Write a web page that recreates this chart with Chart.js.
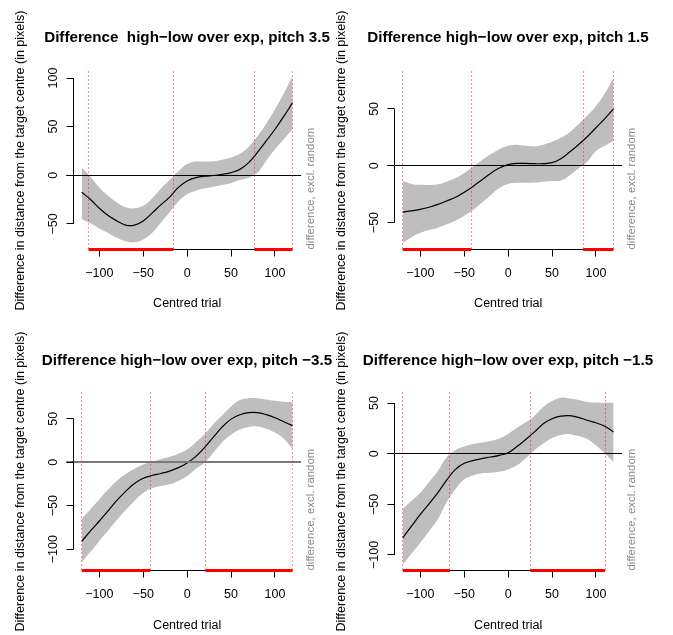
<!DOCTYPE html>
<html><head><meta charset="utf-8">
<script src="https://cdn.jsdelivr.net/npm/chart.js@4.4.1/dist/chart.umd.min.js"></script>
<style>
html,body{margin:0;padding:0;background:#fff;overflow:hidden;width:673px;height:635px}
canvas{position:absolute}
</style></head>
<body>
<canvas id="c1" style="left:0;top:0" width="374" height="321"></canvas>
<canvas id="c2" style="left:321px;top:0" width="374" height="321"></canvas>
<canvas id="c3" style="left:0;top:321px" width="374" height="314"></canvas>
<canvas id="c4" style="left:321px;top:321px" width="374" height="314"></canvas>
<script>
// ---- data ----
const trial = [-120,-110,-100,-90,-80,-70,-60,-50,-40,-30,-20,-10,0,10,20,30,40,50,60,70,80,90,100,110,120];
const xTickValues = [-100,-50,0,50,100];

const titles = [
  'Difference  high\u2212low over exp, pitch 3.5',
  'Difference high\u2212low over exp, pitch 1.5',
  'Difference high\u2212low over exp, pitch \u22123.5',
  'Difference high\u2212low over exp, pitch \u22121.5'
];

const fit1   = [-17.5,-25,-34,-41.5,-47,-51.3,-51.3,-47,-39,-30.5,-22.5,-12.5,-6,-2.5,-1,-0.3,1,2.7,6,13,23.5,35.3,47.3,60.5,74.7];
const upper1 = [8,-1.5,-12.7,-21,-28,-33,-34,-31.5,-24,-14,-5,4,11.5,14,14,14.5,16,18.2,22,29,40,53,67.8,84,102];
const lower1 = [-45,-49.5,-54.8,-59.5,-64.3,-68,-69,-66,-59.5,-49,-38,-27,-19.5,-16,-13.5,-11.8,-10,-8.2,-5,-2.5,2.5,15,26.7,37,47.3];
const sig1   = [[-112.3,-15.6],[76.7,120]];
const yTicks1 = [-50,0,50,100];
const yRange1 = [-76.4,106.7];

const fit2   = [-40.8,-39.8,-38.4,-36.5,-34,-31,-27.8,-23.3,-18.2,-12.5,-6.8,-2,0.9,2,2,1.8,1.8,2.7,6.2,12,18.5,25.5,33.4,41.5,50.1];
const upper2 = [-13.5,-16,-16.8,-17,-16.4,-14,-11,-6.5,-0.8,4.8,10,14.5,17.5,18.5,17.5,17,18.5,21,24.6,29.5,36.5,44,52.5,63.5,77.4];
const lower2 = [-67.7,-63,-59,-56.5,-54.5,-51.5,-48.3,-44,-39,-32.5,-26,-19.5,-16,-15,-15,-14.8,-14,-13.5,-13,-8.5,-2.5,3.5,12.9,17.5,21.7];
const sig2   = [[-120,-42],[85.5,120]];
const yTicks2 = [-50,0,50];
const yRange2 = [-73.7,82.9];

const fit3   = [-91,-79,-67.6,-56,-44,-33.5,-24.5,-18.5,-15.3,-13,-10.3,-6.3,-0.8,6.7,17,29,40.5,49.5,54.5,57,57,54.6,51,46.5,42];
const upper3 = [-65,-54,-42.7,-31.5,-21.3,-13.5,-7.5,-2.8,0.7,3.5,6.3,9.8,14.5,23,32.5,44,54,64,71.5,73.5,73.5,72,70.5,69.5,69];
const lower3 = [-115,-103,-90.5,-78.5,-66.5,-55,-44.5,-35.5,-30,-27.5,-25.5,-21.5,-16,-7.5,-0.5,11,23,31.5,37.5,40.5,41,38.5,34,27,15.3];
const sig3   = [[-120,-42],[21,120]];
const yTicks3 = [-100,-50,0,50];
const yRange3 = [-124.5,80.1];

const fit4   = [-83,-71.5,-60,-49.5,-38.5,-26,-15.5,-9.5,-6.8,-4.8,-3.3,-1.6,1,7,14,21.5,29.5,34.5,37,37.5,35.8,33,30.5,27,21.4];
const upper4 = [-54.5,-46.5,-38.5,-28,-17.1,-3.5,3.5,7,9.5,11,12.5,15,19.5,25.5,31,37.5,46,52,55.3,54.5,53,51,50.5,50.3,50.3];
const lower4 = [-109.5,-98.5,-87.8,-76.5,-64.8,-48,-35,-25.5,-21.5,-19.3,-18.7,-17.8,-15.5,-11.5,-4.5,3.5,10,15.5,18.5,19.3,17.5,14.5,8,0.3,-8.2];
const sig4   = [[-120,-66.4],[25.4,110.4]];
const yTicks4 = [-100,-50,0,50];
const yRange4 = [-115.3,60.4];

// ---- drawing ----
const FONT = "'Liberation Sans', Arial, Helvetica, sans-serif";
const NOTE = 'difference, excl. random';
Chart.defaults.color = '#000';
function pts(xs, ys){ return xs.map((x,i)=>({x:x, y:ys[i]})); }
function lab(v){ return String(v).replace('-', '\u2212'); }

// size the side note so its length matches the reference (about 122 px)
const mctx = document.createElement('canvas').getContext('2d');
mctx.font = '12.5px ' + FONT;
const noteSize = Math.min(12.5, 12.5 * 122 / mctx.measureText(NOTE).width);

const rDeco = {
  id: 'rDeco',
  afterDatasetsDraw(chart, args, o) {
    const {ctx, chartArea: ca, scales: {x, y}} = chart;
    const half = v => Math.floor(v) + 0.5;
    ctx.save();
    // dotted boundaries of significant regions
    ctx.strokeStyle = 'rgba(255,0,0,0.85)';
    ctx.lineWidth = 1;
    ctx.setLineDash([1,3]);
    o.sig.forEach(r => r.forEach(v => {
      const px = half(x.getPixelForValue(v));
      ctx.beginPath(); ctx.moveTo(px, ca.top); ctx.lineTo(px, ca.bottom); ctx.stroke();
    }));
    ctx.setLineDash([]);
    // zero line
    const yz = y.getPixelForValue(0);
    ctx.strokeStyle = o.zeroColor; ctx.lineWidth = o.zeroWidth;
    const y0 = o.zeroWidth % 2 ? half(yz) : Math.round(yz);
    ctx.beginPath(); ctx.moveTo(ca.left - 7, y0); ctx.lineTo(ca.right, y0); ctx.stroke();
    // x axis (R style)
    ctx.strokeStyle = '#000'; ctx.lineWidth = 1;
    const by = half(ca.bottom);
    const xa = x.getPixelForValue(xTickValues[0]), xb = x.getPixelForValue(xTickValues[xTickValues.length-1]);
    ctx.beginPath(); ctx.moveTo(xa, by); ctx.lineTo(xb, by); ctx.stroke();
    xTickValues.forEach(v => {
      const px = half(x.getPixelForValue(v));
      ctx.beginPath(); ctx.moveTo(px, by); ctx.lineTo(px, by + 7); ctx.stroke();
    });
    // y axis (R style)
    const ax = half(ca.left);
    const ya = y.getPixelForValue(o.yTicks[0]), yb = y.getPixelForValue(o.yTicks[o.yTicks.length-1]);
    ctx.beginPath(); ctx.moveTo(ax, ya); ctx.lineTo(ax, yb); ctx.stroke();
    ctx.font = '12.5px ' + FONT;
    ctx.fillStyle = '#000';
    ctx.textAlign = 'center'; ctx.textBaseline = 'alphabetic';
    o.yTicks.forEach(v => {
      const py = y.getPixelForValue(v);
      const hp = half(py);
      ctx.beginPath(); ctx.moveTo(ax, hp); ctx.lineTo(ax - 7, hp); ctx.stroke();
      ctx.save();
      ctx.translate(ca.left - 16.6, py);
      ctx.rotate(-Math.PI/2);
      ctx.fillText(lab(v), 0, 0);
      ctx.restore();
    });
    // red bars for significant regions
    ctx.strokeStyle = '#ff0000'; ctx.lineWidth = 3; ctx.lineCap = 'butt';
    o.sig.forEach(([a,b]) => {
      ctx.beginPath();
      ctx.moveTo(x.getPixelForValue(a), ca.bottom);
      ctx.lineTo(x.getPixelForValue(b), ca.bottom);
      ctx.stroke();
    });
    // right side note
    ctx.save();
    ctx.font = noteSize + 'px ' + FONT;
    ctx.fillStyle = '#8a8a8a';
    ctx.textAlign = 'left';
    ctx.translate(ca.right + 12.5, ca.bottom);
    ctx.rotate(-Math.PI/2);
    ctx.fillText(NOTE, 0, 0);
    ctx.restore();
    ctx.restore();
  }
};

function makePanel(id, title, fit, upper, lower, sig, yTicks, yRange, opt) {
  const canvas = document.getElementById(id);
  const H = canvas.height, W = canvas.width;
  const common = {pointRadius: 0, tension: 0.4};
  new Chart(canvas, {
    type: 'line',
    data: {
      datasets: [
        Object.assign({data: pts(trial, fit), borderColor: '#000', borderWidth: 1.2, fill: false, order: 0}, common),
        Object.assign({data: pts(trial, lower), borderWidth: 0, borderColor: 'rgba(0,0,0,0)', fill: false, order: 1}, common),
        Object.assign({data: pts(trial, upper), borderWidth: 0, borderColor: 'rgba(0,0,0,0)', backgroundColor: '#bebebe', fill: '-1', order: 1}, common)
      ]
    },
    options: {
      responsive: false,
      animation: false,
      events: [],
      layout: {padding: 0},
      plugins: {
        legend: {display: false},
        tooltip: {enabled: false},
        title: {display: true, text: title, fullSize: true, color: '#000',
          font: {family: FONT, size: 15.2, weight: 'bold', lineHeight: 1.2},
          padding: {top: opt.titleTop, bottom: 71.5 - 15.2 * 1.2 - opt.titleTop}},
        rDeco: {sig: sig, yTicks: yTicks, zeroColor: opt.zeroColor, zeroWidth: opt.zeroWidth}
      },
      scales: {
        x: {
          type: 'linear', min: -129.6, max: 129.6,
          grid: {display: false, drawTicks: false}, border: {display: false},
          afterBuildTicks: s => { s.ticks = xTickValues.map(v => ({value: v})); },
          afterFit: s => { s.height = H - 249.5; },
          ticks: {padding: 17, autoSkip: false, maxRotation: 0, minRotation: 0, color: '#000',
            font: {family: FONT, size: 12.5, lineHeight: 1.2}, callback: v => lab(v)},
          title: {display: true, text: 'Centred trial', color: '#000',
            font: {family: FONT, size: 12.5, lineHeight: 1.2}, padding: {top: 0, bottom: opt.xTitleBottom}}
        },
        y: {
          type: 'linear', min: yRange[0], max: yRange[1],
          grid: {display: false, drawTicks: false}, border: {display: false},
          ticks: {display: false},
          afterFit: s => { s.width = 73.3; },
          title: {display: true, text: 'Difference in distance from the target centre (in pixels)', color: '#000',
            font: {family: FONT, size: 12.5, lineHeight: 1.2}, padding: {top: 13.2, bottom: 0}}
        },
        yRight: {
          type: 'linear', position: 'right', min: yRange[0], max: yRange[1],
          grid: {display: false, drawTicks: false}, border: {display: false},
          ticks: {display: false},
          afterFit: s => { s.width = W - 301; }
        }
      }
    },
    plugins: [rDeco]
  });
}

makePanel('c1', titles[0], fit1, upper1, lower1, sig1, yTicks1, yRange1, {titleTop: 28.3, zeroColor: '#000', zeroWidth: 1, xTitleBottom: 10.1});
makePanel('c2', titles[1], fit2, upper2, lower2, sig2, yTicks2, yRange2, {titleTop: 28.3, zeroColor: '#000', zeroWidth: 1, xTitleBottom: 10.1});
makePanel('c3', titles[2], fit3, upper3, lower3, sig3, yTicks3, yRange3, {titleTop: 30.3, zeroColor: '#7a7a7a', zeroWidth: 2, xTitleBottom: 2.1});
makePanel('c4', titles[3], fit4, upper4, lower4, sig4, yTicks4, yRange4, {titleTop: 30.3, zeroColor: '#000', zeroWidth: 1, xTitleBottom: 2.1});
</script>
</body></html>
